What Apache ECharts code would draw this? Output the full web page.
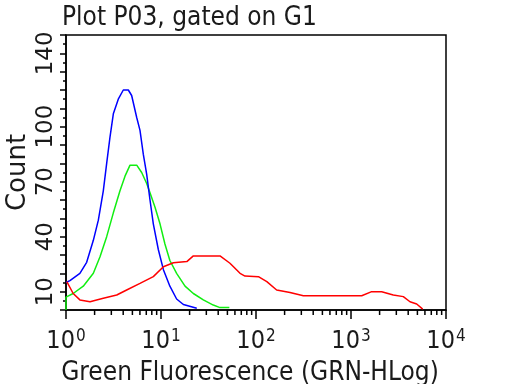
<!DOCTYPE html>
<html><head><meta charset="utf-8">
<script src="https://cdn.jsdelivr.net/npm/echarts@6/dist/echarts.min.js"></script>
<style>html,body{margin:0;padding:0;background:#fff}#c{width:512px;height:384px}</style>
</head><body><div id="c"></div>
<script>
const blueX = [1.0, 1.10, 1.40, 1.65, 1.94, 2.19, 2.47, 2.68, 2.90, 3.15, 3.55, 4.01, 4.53, 4.91, 5.55, 6.01, 6.51, 7.07, 7.66, 8.30, 9.37, 10.6, 12.4, 14.6, 17.2, 23.8];
const blueY = [15, 16, 20, 26, 38, 49, 65, 80, 94, 107, 115, 120, 120, 117, 105, 98, 85, 74, 60, 47, 33, 22, 13, 6, 3, 1];
const greenX = [1.0, 1.0, 1.19, 1.52, 1.94, 2.28, 2.68, 3.15, 3.70, 4.18, 4.72, 5.55, 6.26, 7.07, 7.66, 8.65, 9.76, 11.0, 12.4, 14.6, 17.9, 21.9, 27.9, 35.5, 41.8, 52.4];
const greenY = [0, 7, 9, 13, 20, 29, 40, 53, 65, 73, 79, 79, 75, 69, 64, 56, 47, 36, 27, 20, 13, 9, 5.5, 2.7, 1.3, 1.3];
const redX = [1.02, 1.19, 1.40, 1.79, 2.10, 2.47, 3.42, 4.35, 6.01, 8.30, 10.6, 13.5, 18.7, 21.9, 41.8, 53.2, 67.9, 76.6, 106, 130, 165, 228, 315, 601, 1297, 1651, 2104, 2787, 3555, 4178, 4917, 5684];
const redY = [15.5, 9, 5.5, 4.5, 5.5, 6.4, 8.2, 10.9, 14.5, 18.2, 23.6, 25.8, 26.4, 29.5, 29.5, 25.5, 20, 18.5, 18.2, 15.5, 10.9, 9.5, 7.8, 7.8, 7.8, 10, 10, 8.2, 7.3, 4.5, 3.3, 0.5];
const yLabels = [10, 40, 70, 100, 140];
const xMinorTicks = [2,3,4,5,6,7,8,9,20,30,40,50,60,70,80,90,200,300,400,500,600,700,800,900,2000,3000,4000,5000,6000,7000,8000,9000];

const zip = (xs, ys) => xs.map((x, i) => [x, ys[i]]);
const HFONT = '"DejaVu Sans Condensed", "Liberation Sans Narrow", "DejaVu Sans", sans-serif';
const VFONT = '"DejaVu Sans", sans-serif';
const TXT = '#1a1a1a';
const chart = echarts.init(document.getElementById('c'), null, {renderer: 'canvas'});
chart.setOption({
  animation: false,
  backgroundColor: '#fff',
  title: {text: 'Plot P03, gated on G1', left: 57, top: 0,
    textStyle: {fontFamily: HFONT, fontSize: 26, fontWeight: 'normal', color: TXT}},
  grid: {left: 66, right: 66, top: 35, bottom: 74, containLabel: false, outerBoundsMode: 'none',
    show: true, borderColor: '#000', borderWidth: 1.5, backgroundColor: 'transparent'},
  xAxis: {
    type: 'log', logBase: 10, min: 1, max: 10000,
    name: 'Green Fluorescence (GRN-HLog)', nameLocation: 'middle', nameGap: 50, nameMoveOverlap: false,
    nameTextStyle: {fontFamily: HFONT, fontSize: 26, color: TXT, padding: [0, 12, 0, 0]},
    axisLine: {lineStyle: {color: '#000', width: 1.5}},
    axisTick: {show: true, length: 9, lineStyle: {color: '#000', width: 1.5}},
    splitLine: {show: false},
    axisLabel: {margin: 18, formatter: v => '{b|10}{s|' + Math.round(Math.log10(v)) + '}',
      rich: {b: {fontFamily: HFONT, fontSize: 25, color: TXT, lineHeight: 26, padding: [10, 0, 0, 0], verticalAlign: 'bottom'},
             s: {fontFamily: HFONT, fontSize: 17, color: TXT, lineHeight: 17, verticalAlign: 'top', padding: [0, 0, 0, 1]}}}
  },
  yAxis: {
    type: 'value', min: 0, max: 150, interval: 10,
    name: 'Count', nameLocation: 'middle', nameGap: 35, nameRotate: 90, nameMoveOverlap: false,
    nameTextStyle: {fontFamily: VFONT, fontSize: 26, color: TXT},
    axisLine: {show: true, lineStyle: {color: '#000', width: 1.5}},
    axisTick: {show: true, length: 6, lineStyle: {color: '#000', width: 1.5}},
    minorTick: {show: true, splitNumber: 2, length: 3, lineStyle: {color: '#000', width: 1.5}},
    splitLine: {show: false},
    axisLabel: {rotate: 90, margin: 8, fontFamily: VFONT, fontSize: 23, color: TXT,
      formatter: v => yLabels.includes(v) ? String(v) : ''}
  },
  series: [
    {type: 'line', data: zip(blueX, blueY), showSymbol: false, lineStyle: {color: '#0000ff', width: 1.5}, z: 3},
    {type: 'line', data: zip(greenX, greenY), showSymbol: false, lineStyle: {color: '#11ee11', width: 1.5}, z: 2},
    {type: 'line', data: zip(redX, redY), showSymbol: false, lineStyle: {color: '#ff0000', width: 1.5}, z: 4},
    {type: 'custom', clip: false, silent: true, z: 10,
      data: xMinorTicks.map(v => [v, 0]),
      renderItem: (params, api) => {
        const p = api.coord([api.value(0), 0]);
        return {type: 'line', shape: {x1: p[0], y1: p[1], x2: p[0], y2: p[1] + 5}, style: {stroke: '#000', lineWidth: 1.5}};
      }}
  ]
});
</script></body></html>
